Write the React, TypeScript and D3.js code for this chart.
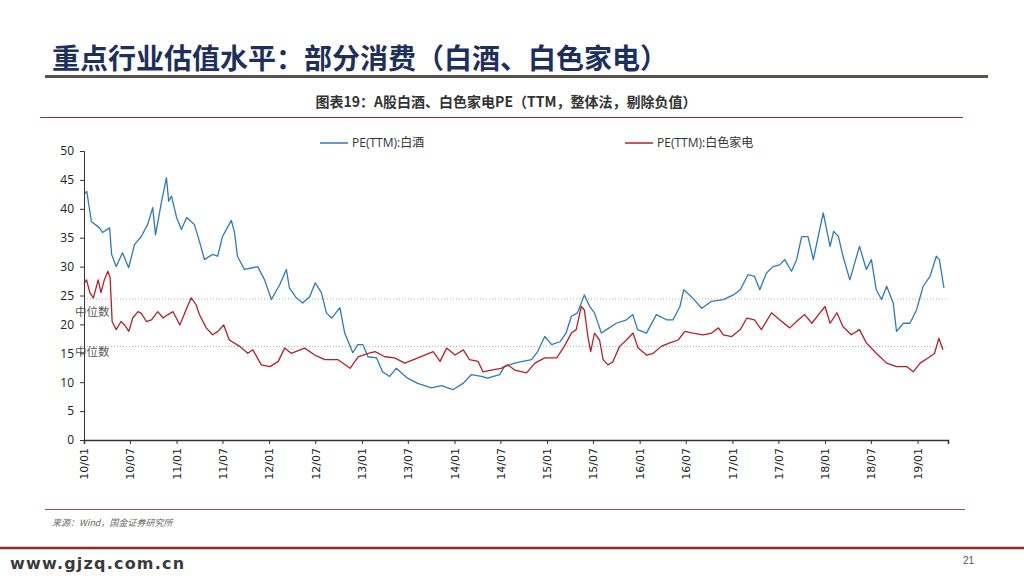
import { useEffect, useRef } from "react";
import * as d3 from "d3";

// PE(TTM) 白酒
const baijiuDates = [
  "2010-01-01", "2010-01-12", "2010-01-30", "2010-03-03", "2010-03-15", "2010-04-12", "2010-04-20",
  "2010-05-08", "2010-06-02", "2010-06-26", "2010-07-19", "2010-08-15", "2010-09-09", "2010-09-29",
  "2010-10-10", "2010-11-03", "2010-11-22", "2010-12-01", "2010-12-12", "2011-01-01", "2011-01-20",
  "2011-02-10", "2011-03-12", "2011-04-01", "2011-04-21", "2011-05-22", "2011-06-12", "2011-07-01",
  "2011-07-20", "2011-08-05", "2011-08-18", "2011-08-29", "2011-09-26", "2011-11-17", "2011-12-14",
  "2012-01-10", "2012-02-12", "2012-03-09", "2012-03-21", "2012-04-17", "2012-05-12", "2012-06-09",
  "2012-07-01", "2012-07-25", "2012-08-14", "2012-09-04", "2012-10-06", "2012-10-25", "2012-11-26",
  "2012-12-16", "2013-01-05", "2013-01-25", "2013-02-28", "2013-03-23", "2013-04-20", "2013-05-16",
  "2013-06-30", "2013-08-09", "2013-10-02", "2013-11-11", "2013-12-25", "2014-02-04", "2014-03-08",
  "2014-04-17", "2014-05-11", "2014-06-28", "2014-07-17", "2014-08-26", "2014-09-27", "2014-11-01",
  "2014-11-25", "2014-12-23", "2015-01-19", "2015-02-21", "2015-03-17", "2015-04-07", "2015-05-01",
  "2015-05-28", "2015-06-18", "2015-07-07", "2015-08-03", "2015-08-23", "2015-10-01", "2015-11-10",
  "2015-12-05", "2015-12-24", "2016-01-28", "2016-03-07", "2016-04-16", "2016-05-12", "2016-06-08",
  "2016-06-23", "2016-07-23", "2016-09-02", "2016-10-11", "2016-11-26", "2017-01-05", "2017-02-01",
  "2017-03-03", "2017-03-29", "2017-04-19", "2017-05-15", "2017-06-10", "2017-07-06", "2017-07-26",
  "2017-08-22", "2017-09-11", "2017-10-01", "2017-10-26", "2017-11-16", "2017-12-05", "2017-12-25",
  "2018-01-21", "2018-02-04", "2018-02-23", "2018-03-13", "2018-04-09", "2018-04-28", "2018-05-17",
  "2018-06-13", "2018-07-03", "2018-07-22", "2018-08-12", "2018-09-01", "2018-09-27", "2018-10-10",
  "2018-11-06", "2018-12-02", "2018-12-28", "2019-01-23", "2019-02-19", "2019-03-16", "2019-03-28",
  "2019-04-15",
];
const baijiuPE = [
  42.5, 43.0, 37.8, 36.7, 35.9, 36.7, 32.1,
  30.0, 32.4, 29.8, 33.8, 35.2, 37.3, 40.2,
  35.5, 41.3, 45.4, 41.3, 42.2, 38.5, 36.4,
  38.5, 37.3, 34.4, 31.2, 32.1, 31.8, 35.2,
  36.7, 38.0, 35.8, 31.8, 29.5, 30.0, 27.7,
  24.3, 26.9, 29.5, 26.3, 24.6, 23.7, 24.8,
  27.2, 25.5, 22.0, 21.1, 22.9, 18.5, 15.1,
  16.5, 16.5, 14.4, 14.2, 11.8, 11.0, 12.4,
  10.7, 9.8, 9.0, 9.4, 8.7, 9.8, 11.3,
  11.0, 10.7, 11.3, 12.7, 13.3, 13.6, 13.9,
  15.3, 17.9, 16.5, 17.0, 18.5, 21.4, 22.0,
  25.1, 23.1, 22.0, 18.5, 19.1, 20.2, 20.8,
  21.7, 19.1, 18.5, 21.7, 20.8, 20.8, 23.1,
  26.0, 24.8, 22.8, 24.0, 24.3, 25.1, 26.0,
  28.6, 28.3, 26.0, 28.9, 30.0, 30.3, 31.2,
  29.2, 31.2, 35.2, 35.2, 31.2, 35.2, 39.3,
  33.5, 36.1, 35.2, 31.8, 27.7, 30.6, 33.5,
  29.5, 31.2, 26.0, 24.3, 26.6, 23.7, 18.8,
  20.2, 20.2, 22.5, 26.6, 28.3, 31.8, 31.2,
  26.3,
];

// PE(TTM) 白色家电
const jiadianDates = [
  "2010-01-01", "2010-01-11", "2010-01-24", "2010-02-07", "2010-02-26", "2010-03-09", "2010-03-22",
  "2010-04-05", "2010-04-14", "2010-04-22", "2010-05-08", "2010-05-27", "2010-06-10", "2010-06-27",
  "2010-07-12", "2010-08-02", "2010-08-15", "2010-09-04", "2010-09-24", "2010-10-19", "2010-11-09",
  "2010-11-28", "2010-12-18", "2011-01-14", "2011-02-10", "2011-02-28", "2011-03-19", "2011-04-01",
  "2011-04-28", "2011-05-23", "2011-06-13", "2011-07-06", "2011-07-28", "2011-09-07", "2011-10-09",
  "2011-10-29", "2011-12-01", "2012-01-04", "2012-02-06", "2012-03-02", "2012-03-28", "2012-05-20",
  "2012-06-29", "2012-08-08", "2012-09-29", "2012-11-15", "2012-12-17", "2013-01-26", "2013-02-22",
  "2013-04-01", "2013-05-10", "2013-06-19", "2013-08-10", "2013-10-09", "2013-11-05", "2013-12-01",
  "2014-01-03", "2014-02-05", "2014-03-01", "2014-04-04", "2014-04-23", "2014-05-26", "2014-07-04",
  "2014-07-30", "2014-08-26", "2014-10-12", "2014-11-14", "2014-12-23", "2015-02-08", "2015-03-10",
  "2015-04-07", "2015-04-26", "2015-05-16", "2015-05-28", "2015-06-11", "2015-06-22", "2015-07-07",
  "2015-07-27", "2015-08-10", "2015-08-29", "2015-09-17", "2015-10-14", "2015-11-10", "2015-12-06",
  "2015-12-26", "2016-01-28", "2016-02-24", "2016-03-26", "2016-04-29", "2016-06-01", "2016-06-27",
  "2016-07-29", "2016-09-08", "2016-10-11", "2016-11-07", "2016-11-26", "2016-12-29", "2017-02-01",
  "2017-02-27", "2017-03-29", "2017-04-25", "2017-06-04", "2017-07-06", "2017-08-15", "2017-09-18",
  "2017-10-13", "2017-11-10", "2017-12-12", "2018-01-01", "2018-01-21", "2018-02-17", "2018-03-13",
  "2018-04-15", "2018-05-17", "2018-06-13", "2018-07-22", "2018-09-01", "2018-10-10", "2018-11-19",
  "2018-12-15", "2019-01-11", "2019-02-19", "2019-03-09", "2019-03-26", "2019-04-11",
];
const jiadianPE = [
  27.0, 27.7, 25.5, 24.6, 27.7, 25.5, 27.7,
  29.2, 28.1, 20.5, 19.1, 20.5, 19.9, 18.8,
  21.1, 22.2, 21.9, 20.5, 20.8, 22.2, 21.1,
  21.7, 22.2, 19.9, 22.8, 24.6, 23.4, 21.7,
  19.4, 18.2, 18.8, 19.9, 17.3, 16.2, 15.0,
  15.6, 13.0, 12.7, 13.6, 15.9, 15.0, 15.9,
  14.7, 13.9, 13.9, 12.4, 14.4, 15.0, 15.3,
  14.4, 14.2, 13.3, 14.2, 15.3, 13.6, 15.9,
  14.7, 15.6, 13.9, 13.6, 11.8, 12.1, 12.4,
  13.0, 12.1, 11.6, 13.3, 14.2, 14.2, 16.2,
  18.5, 19.1, 23.1, 22.5, 17.9, 15.3, 18.5,
  17.3, 13.9, 13.0, 13.5, 16.2, 17.3, 18.5,
  15.9, 14.7, 15.0, 16.2, 16.8, 17.3, 18.8,
  18.5, 18.2, 18.5, 19.4, 18.2, 17.9, 19.1,
  21.1, 20.8, 19.1, 22.0, 20.8, 19.4, 20.8,
  21.7, 20.2, 22.0, 23.1, 20.2, 22.0, 19.6,
  18.2, 19.1, 16.8, 15.0, 13.3, 12.7, 12.7,
  11.8, 13.3, 14.4, 15.0, 17.6, 15.6,
];

const seriesNames = ["PE(TTM):白酒", "PE(TTM):白色家电"];
const seriesColors = ["#2E7AB8", "#B5212A"];
const medianValues = [24.4, 16.2];
const medianLabel = "中位数";
const yTicks = [0, 5, 10, 15, 20, 25, 30, 35, 40, 45, 50];
const xDomain = ["2010-01-01", "2019-05-01"];

const pageTitle = "重点行业估值水平：部分消费（白酒、白色家电）";
const chartTitle = "图表19：A股白酒、白色家电PE（TTM，整体法，剔除负值）";
const sourceNote = "来源：Wind，国金证券研究所";
const siteUrl = "www.gjzq.com.cn";
const pageNo = "21";

const W = 1024;
const H = 576;
const CJK = "'Noto Sans CJK SC', 'Noto Sans', sans-serif";

export default function App() {
  const ref = useRef<SVGSVGElement | null>(null);

  useEffect(() => {
    const svg = d3.select(ref.current);
    svg.selectAll("*").remove();

    const margin = { top: 151, right: 76, bottom: 136, left: 84 };
    const width = W - margin.left - margin.right;
    const height = H - margin.top - margin.bottom;
    const parse = d3.timeParse("%Y-%m-%d");

    const x = d3
      .scaleTime()
      .domain(xDomain.map((d) => parse(d) as Date))
      .range([0, width]);
    const y = d3.scaleLinear().domain([0, 50]).range([height, 0]);

    svg.append("rect").attr("width", W).attr("height", H).attr("fill", "#fff");

    // page header
    svg
      .append("text")
      .text(pageTitle)
      .attr("x", 52)
      .attr("y", 69)
      .attr("font-family", CJK)
      .attr("font-weight", "bold")
      .attr("font-size", 28)
      .attr("fill", "#1E2F5C");
    svg
      .append("line")
      .attr("x1", 45)
      .attr("x2", 988)
      .attr("y1", 76.5)
      .attr("y2", 76.5)
      .attr("stroke", "#5A524C")
      .attr("stroke-width", 3);

    svg
      .append("text")
      .text(chartTitle)
      .attr("x", 506)
      .attr("y", 107)
      .attr("text-anchor", "middle")
      .attr("font-family", CJK)
      .attr("font-weight", 600)
      .attr("font-size", 14)
      .attr("fill", "#333");
    svg
      .append("line")
      .attr("x1", 40)
      .attr("x2", 963)
      .attr("y1", 117.5)
      .attr("y2", 117.5)
      .attr("stroke", "#9E2A2E")
      .attr("stroke-width", 1);

    const g = svg
      .append("g")
      .attr("transform", `translate(${margin.left}, ${margin.top})`);

    // median reference lines
    g.append("g")
      .selectAll("line")
      .data(medianValues)
      .enter()
      .append("line")
      .attr("x1", 0)
      .attr("x2", width)
      .attr("y1", (d) => y(d))
      .attr("y2", (d) => y(d))
      .attr("stroke", "#9A9A9A")
      .attr("stroke-width", 0.8)
      .attr("stroke-dasharray", "1,2");

    // series
    const line = d3
      .line<[Date, number]>()
      .x((d) => x(d[0]))
      .y((d) => y(d[1]));
    const series = [
      d3.zip(baijiuDates.map((d) => parse(d) as Date), baijiuPE),
      d3.zip(jiadianDates.map((d) => parse(d) as Date), jiadianPE),
    ] as [Date, number][][];
    series.forEach((s, i) => {
      g.append("path")
        .datum(s)
        .attr("d", line)
        .attr("fill", "none")
        .attr("stroke", seriesColors[i])
        .attr("stroke-width", 1.3)
        .attr("stroke-linejoin", "round");
    });

    // y axis
    const yAxis = g
      .append("g")
      .call(d3.axisLeft(y).tickValues(yTicks).tickSize(4).tickPadding(6));
    yAxis.select(".domain").attr("stroke", "#333");
    yAxis.selectAll("line").attr("stroke", "#333");
    yAxis
      .selectAll("text")
      .attr("font-family", "'Open Sans', sans-serif")
      .attr("font-size", 12)
      .attr("fill", "#222");

    // x axis
    const xAxis = g
      .append("g")
      .attr("transform", `translate(0, ${height})`)
      .call(
        d3
          .axisBottom(x)
          .ticks(d3.timeMonth.every(6))
          .tickFormat((d) => d3.timeFormat("%y/%m")(d as Date))
          .tickSizeOuter(0)
          .tickSize(4)
      );
    xAxis.select(".domain").attr("stroke", "#333").attr("stroke-width", 1.5);
    xAxis.selectAll("line").attr("stroke", "#333");
    xAxis
      .selectAll("text")
      .attr("font-family", "'DejaVu Sans', sans-serif")
      .attr("font-size", 11)
      .attr("fill", "#222")
      .attr("text-anchor", "end")
      .attr("transform", "rotate(-90)")
      .attr("dx", "-8px")
      .attr("x", 0)
      .attr("y", 0)
      .attr("dy", "0.35em");

    // median labels
    g.append("g")
      .selectAll("text")
      .data(medianValues)
      .enter()
      .append("text")
      .text(medianLabel)
      .attr("x", -9)
      .attr("y", (d, i) => y(d) + (i === 0 ? 17 : 10))
      .attr("font-family", CJK)
      .attr("font-size", 11.5)
      .attr("fill", "#555");

    // legend
    const legendX = [236, 541];
    const legend = g
      .append("g")
      .selectAll("g")
      .data(seriesNames)
      .enter()
      .append("g")
      .attr("transform", (d, i) => `translate(${legendX[i]}, -8)`);
    legend
      .append("line")
      .attr("x1", 0)
      .attr("x2", 28)
      .attr("stroke", (d, i) => seriesColors[i])
      .attr("stroke-width", 1.5);
    legend
      .append("text")
      .text((d) => d)
      .attr("x", 32)
      .attr("dy", "0.35em")
      .attr("font-family", "'Open Sans', 'Noto Sans CJK SC', sans-serif")
      .attr("font-size", 12)
      .attr("fill", "#333");

    // footer
    svg
      .append("line")
      .attr("x1", 45)
      .attr("x2", 965)
      .attr("y1", 509.5)
      .attr("y2", 509.5)
      .attr("stroke", "#B0474A")
      .attr("stroke-width", 1);
    svg
      .append("text")
      .text(sourceNote)
      .attr("x", 52)
      .attr("y", 526)
      .attr("font-family", CJK)
      .attr("font-size", 9)
      .attr("font-style", "italic")
      .attr("fill", "#666");
    svg
      .append("line")
      .attr("x1", 0)
      .attr("x2", W)
      .attr("y1", 548)
      .attr("y2", 548)
      .attr("stroke", "#8E2A2A")
      .attr("stroke-width", 2.5);
    svg
      .append("text")
      .text(siteUrl)
      .attr("x", 10)
      .attr("y", 569)
      .attr("font-family", "'DejaVu Sans', sans-serif")
      .attr("font-weight", "bold")
      .attr("font-size", 16)
      .attr("letter-spacing", 1.2)
      .attr("fill", "#3A3A3A");
    svg
      .append("text")
      .text(pageNo)
      .attr("x", 963)
      .attr("y", 564)
      .attr("font-family", "'Liberation Sans', sans-serif")
      .attr("font-size", 10)
      .attr("fill", "#555");
  }, []);

  return (
    <svg
      ref={ref}
      width={W}
      height={H}
      style={{ position: "absolute", left: 0, top: 0 }}
    />
  );
}
